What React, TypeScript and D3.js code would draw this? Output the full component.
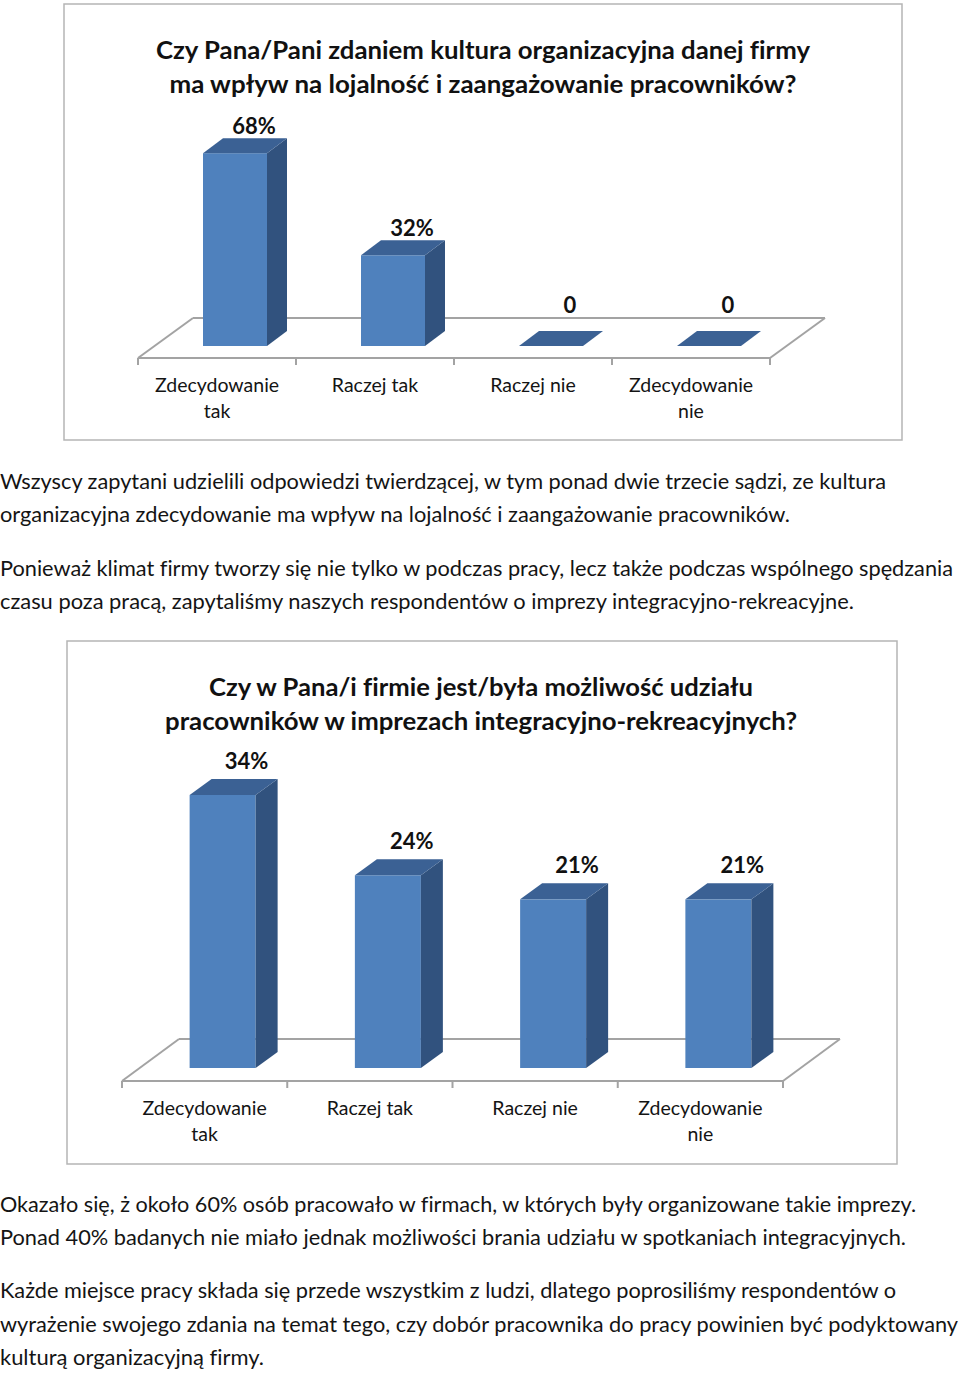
import React from "react";
import * as d3 from "d3";

// ---------- data ----------
const categories = ["Zdecydowanie tak", "Raczej tak", "Raczej nie", "Zdecydowanie nie"];
const categoryLines = [["Zdecydowanie", "tak"], ["Raczej tak"], ["Raczej nie"], ["Zdecydowanie", "nie"]];

const title1 = ["Czy Pana/Pani zdaniem kultura organizacyjna danej firmy", "ma wpływ na lojalność i zaangażowanie pracowników?"];
const values1 = [68, 32, 0, 0];
const labels1 = ["68%", "32%", "0", "0"];

const title2 = ["Czy w Pana/i firmie jest/była możliwość udziału", "pracowników w imprezach integracyjno-rekreacyjnych?"];
const values2 = [34, 24, 21, 21];
const labels2 = ["34%", "24%", "21%", "21%"];

const paragraphA = [
  "Wszyscy zapytani udzielili odpowiedzi twierdzącej, w tym ponad dwie trzecie sądzi, ze kultura",
  "organizacyjna zdecydowanie ma wpływ na lojalność i zaangażowanie pracowników.",
];
const paragraphB = [
  "Ponieważ klimat firmy tworzy się nie tylko w podczas pracy, lecz także podczas wspólnego spędzania",
  "czasu poza pracą, zapytaliśmy naszych respondentów o imprezy integracyjno-rekreacyjne.",
];
const paragraphC = [
  "Okazało się, ż około 60% osób pracowało w firmach, w których były organizowane takie imprezy.",
  "Ponad 40% badanych nie miało jednak możliwości brania udziału w spotkaniach integracyjnych.",
];
const paragraphD = [
  "Każde miejsce pracy składa się przede wszystkim z ludzi, dlatego poprosiliśmy respondentów o",
  "wyrażenie swojego zdania na temat tego, czy dobór pracownika do pracy powinien być podyktowany",
  "kulturą organizacyjną firmy.",
];

// ---------- styles ----------
const FONT = "Lato, 'Open Sans', sans-serif";
const FRONT = "#4f81bd";
const SIDE = "#31527e";
const TOP = "#3b6194";
const FLOOR = "#a3a3a3";
const FRAME = "#b5b5b5";
const TEXT = "#141414";
const NOLIG: React.CSSProperties = { fontVariantLigatures: "none", fontKerning: "normal" };

type ChartSpec = {
  frame: [number, number, number, number];
  titleX: number;
  titleY: [number, number];
  titleW: [number, number];
  floorY: number;
  floorX: [number, number];
  floorDepth: [number, number];
  barOffset: [number, number];
  barW: number;
  barDepth: [number, number];
  pxPerUnit: number;
  maxV: number;
  labelDx: number;
  labelGap: number;
  catY: [number, number];
};

function Chart3D({ spec, title, values, labels }: { spec: ChartSpec; title: string[]; values: number[]; labels: string[] }) {
  const [fx, fy, fw, fh] = spec.frame;
  const [fdx, fdy] = spec.floorDepth;
  const [bdx, bdy] = spec.barDepth;
  const x = d3.scaleBand<string>().domain(categories).range(spec.floorX).padding(0);
  const base = spec.floorY + spec.barOffset[1];
  const y = d3.scaleLinear().domain([0, spec.maxV]).range([base, base - spec.maxV * spec.pxPerUnit]);
  const [x0, x1] = spec.floorX;
  const fY = spec.floorY;
  const pts = (p: number[][]) => p.map((q) => q.join(",")).join(" ");
  const floorBack = fY + fdy;
  return (
    <g>
      <rect x={fx} y={fy} width={fw} height={fh} fill="#fff" stroke={FRAME} strokeWidth={1.5} />
      {title.map((t, i) => (
        <text key={i} x={spec.titleX} y={spec.titleY[i]} textAnchor="middle" fontFamily={FONT} fontWeight={700}
          fontSize={25} fill="#111" style={NOLIG} textLength={spec.titleW[i]} lengthAdjust="spacingAndGlyphs">{t}</text>
      ))}
      {/* floor */}
      <g stroke={FLOOR} strokeWidth={2} fill="none">
        <line x1={x0} y1={fY} x2={x1} y2={fY} />
        <line x1={x0} y1={fY} x2={x0 + fdx} y2={floorBack} />
        <line x1={x0 + fdx} y1={floorBack} x2={x1 + fdx} y2={floorBack} />
        <line x1={x1} y1={fY} x2={x1 + fdx} y2={floorBack} />
        {d3.range(categories.length + 1).map((i) => {
          const tx = x0 + i * x.bandwidth();
          return <line key={i} x1={tx} y1={fY} x2={tx} y2={fY + 7} />;
        })}
      </g>
      {/* bars */}
      {values.map((v, i) => {
        const c = (x(categories[i]) as number) + x.bandwidth() / 2 + spec.barOffset[0];
        const l = c - spec.barW / 2;
        const r = c + spec.barW / 2;
        const t = y(v);
        return (
          <g key={i}>
            {v > 0 && <rect x={l} y={t} width={spec.barW} height={base - t} fill={FRONT} />}
            {v > 0 && <polygon points={pts([[r, base], [r + bdx, base + bdy], [r + bdx, t + bdy], [r, t]])} fill={SIDE} />}
            <polygon points={pts([[l, t], [l + bdx, t + bdy], [r + bdx, t + bdy], [r, t]])} fill={TOP} />
            <text x={c + spec.labelDx} y={Math.min(t + bdy - spec.labelGap, floorBack - 5)} textAnchor="middle"
              fontFamily={FONT} fontWeight={700} fontSize={22} fill="#111">{labels[i]}</text>
          </g>
        );
      })}
      {/* category labels */}
      {categoryLines.map((ls, i) => {
        const c = (x(categories[i]) as number) + x.bandwidth() / 2;
        return ls.map((s, j) => (
          <text key={i + "-" + j} x={c} y={spec.catY[j]} textAnchor="middle" fontFamily={FONT} fontSize={19.5} fill={TEXT}>{s}</text>
        ));
      })}
    </g>
  );
}

const spec1: ChartSpec = {
  frame: [64, 4, 838, 436],
  titleX: 483,
  titleY: [59, 93],
  titleW: [654, 627],
  floorY: 358,
  floorX: [138, 770],
  floorDepth: [55, -40],
  barOffset: [18, -12],
  barW: 64,
  barDepth: [20, -15],
  pxPerUnit: 2.835,
  maxV: 80,
  labelDx: 19,
  labelGap: 4,
  catY: [392, 418],
};

const spec2: ChartSpec = {
  frame: [67, 641, 830, 523],
  titleX: 481,
  titleY: [696, 730],
  titleW: [544, 632],
  floorY: 1081,
  floorX: [122, 783],
  floorDepth: [57, -42],
  barOffset: [18, -13],
  barW: 66,
  barDepth: [22, -16],
  pxPerUnit: 8.03,
  maxV: 40,
  labelDx: 24,
  labelGap: 10,
  catY: [1115, 1141],
};

const paraLines: { text: string; y: number; w: number }[] = [
  { text: paragraphA[0], y: 489, w: 886 },
  { text: paragraphA[1], y: 522, w: 790 },
  { text: paragraphB[0], y: 576, w: 953 },
  { text: paragraphB[1], y: 609, w: 854 },
  { text: paragraphC[0], y: 1212, w: 916 },
  { text: paragraphC[1], y: 1245, w: 906 },
  { text: paragraphD[0], y: 1298, w: 896 },
  { text: paragraphD[1], y: 1332, w: 958 },
  { text: paragraphD[2], y: 1365, w: 264 },
];

export default function App() {
  return (
    <div style={{ position: "absolute", left: 0, top: 0 }}>
      <svg width={960} height={1373} style={{ display: "block", background: "#fff" }}>
        <rect x={0} y={0} width={960} height={1373} fill="#fff" />
        <Chart3D spec={spec1} title={title1} values={values1} labels={labels1} />
        <Chart3D spec={spec2} title={title2} values={values2} labels={labels2} />
        {paraLines.map((p, i) => (
          <text key={i} x={0} y={p.y} fontFamily={FONT} fontSize={21} fill={TEXT} style={NOLIG}
            textLength={p.w} lengthAdjust="spacingAndGlyphs">{p.text}</text>
        ))}
      </svg>
    </div>
  );
}
